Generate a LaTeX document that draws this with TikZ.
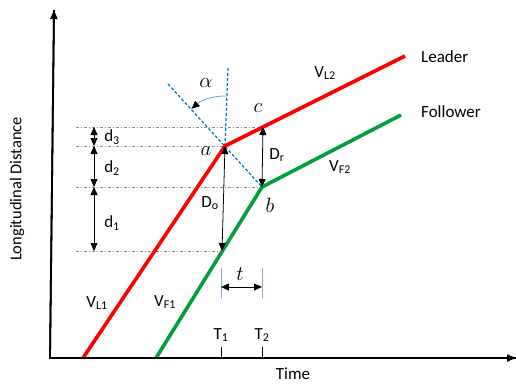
\documentclass[tikz,border=0pt]{standalone}
\usepackage{fontspec}
\setmainfont{Carlito}
\usetikzlibrary{arrows.meta}
\definecolor{redL}{RGB}{255,0,0}
\definecolor{greenF}{RGB}{0,160,60}
\definecolor{blueD}{RGB}{0,112,192}
\definecolor{blueT}{RGB}{140,170,225}
\definecolor{grayD}{RGB}{140,140,140}
\tikzset{
  axis/.style={line width=1.8pt, -{Triangle[length=9pt,width=7pt]}},
  traj/.style={line width=3.6pt},
  guide/.style={grayD, line width=0.7pt, dash pattern=on 3pt off 2pt on 1pt off 2pt},
  dim/.style={line width=0.8pt, {Triangle[length=8pt,width=7pt]}-{Triangle[length=8pt,width=7pt]}},
  bdash/.style={blueD, line width=1.2pt, dash pattern=on 3pt off 2pt},
  lbl/.style={font=\fontsize{17}{20}\selectfont, inner sep=0pt},
  mlbl/.style={font=\fontsize{21}{24}\selectfont, inner sep=0pt},
}
\begin{document}
\begin{tikzpicture}[x=1pt,y=1pt]
\useasboundingbox (0,0) rectangle (516,389);
% points
\coordinate (O) at (50,31);
\coordinate (Ytop) at (54,379);
\coordinate (Xend) at (516,31);
\coordinate (R0) at (83,31);
\coordinate (a) at (225,243);
\coordinate (R1) at (405,333);
\coordinate (G0) at (156,31);
\coordinate (b) at (262,202);
\coordinate (G1) at (401,274);
\coordinate (c) at (263,262);
\coordinate (e) at (222,138);
\coordinate (V0) at (228,321);
\coordinate (D0) at (168,305);
% guides
\draw[guide] (76,262) -- (c);
\draw[guide] (76,243) -- (a);
\draw[guide] (76,202) -- (b);
\draw[guide] (76,138) -- (e);
% blue dashed
\draw[bdash] (V0) -- (a);
\draw[bdash] (D0) -- (b);
% alpha arc
\draw[blueT!80!blueD, line width=0.8pt, -{Triangle[length=8pt,width=7pt,black]}]
  ([shift={(88:50)}]a) arc[start angle=88, end angle=132, radius=50];
% trajectories
\draw[traj, redL] (R0) -- (a) -- (R1);
\draw[traj, greenF] (G0) -- (b) -- (G1);
% axes
\draw[line width=1.8pt] (Ytop) -- (O) -- (Xend);
\draw[axis] (O) -- (Ytop);
\draw[axis] (O) -- (Xend);
% dimension arrows
\draw[dim] (94,262) -- (94,243);
\draw[dim] (94,243) -- (94,202);
\draw[dim] (94,202) -- (94,138);
\draw[dim] (c) -- (b);
\draw[dim] (a) -- (e);
% t marker
\draw[blueT, line width=0.8pt] (221,121) -- (221,91);
\draw[blueT, line width=0.8pt] (262,121) -- (262,91);
\draw[dim] (221,102) -- (262,102);
% ticks
\draw[line width=0.8pt] (221,31) -- (221,42);
\draw[line width=0.8pt] (262,31) -- (262,42);
% labels
\node[lbl, rotate=90, font=\fontsize{16.5}{19}\selectfont] (ylab) at (17,200) {Longitudinal Distance};
\node[lbl] (xlab) at (293,15) {Time};
\node[lbl, anchor=west] (lead) at (421,332) {Leader};
\node[lbl, anchor=west] (foll) at (421,277) {Follower};
\node[lbl] (vl2) at (325,316) {V\textsubscript{L2}};
\node[lbl] (vf2) at (340,222) {V\textsubscript{F2}};
\node[lbl] (vl1) at (97,86) {V\textsubscript{L1}};
\node[lbl] (vf1) at (165,87) {V\textsubscript{F1}};
\node[lbl] (d3) at (112,252) {d\textsubscript{3}};
\node[lbl] (d2) at (112,221) {d\textsubscript{2}};
\node[lbl] (d1) at (112,166) {d\textsubscript{1}};
\node[lbl] (dr) at (277,234) {D\textsubscript{r}};
\node[lbl] (do) at (210,186) {D\textsubscript{o}};
\node[lbl] (t1) at (221,54) {T\textsubscript{1}};
\node[lbl] (t2) at (262,54) {T\textsubscript{2}};
\node[mlbl] (la) at (206,238) {$a$};
\node[mlbl] (lb) at (270,184) {$b$};
\node[mlbl] (lc) at (258,281) {$c$};
\node[mlbl] (lt) at (240,115) {$t$};
\node[mlbl] (lal) at (206,306) {$\alpha$};
\end{tikzpicture}
\end{document}
